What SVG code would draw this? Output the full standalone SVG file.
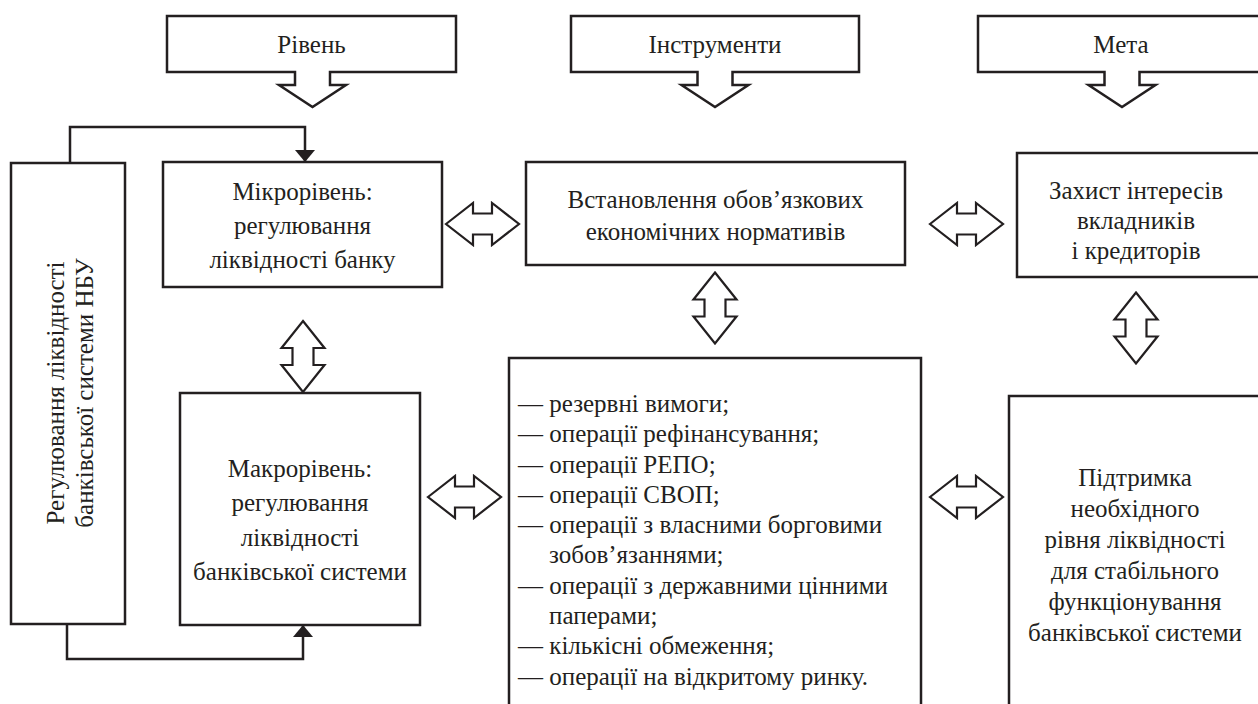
<svg xmlns="http://www.w3.org/2000/svg" width="1258" height="704" viewBox="0 0 1258 704">
<style>
.box{fill:#fff;stroke:#231f20;stroke-width:2.5}
.arr{fill:#fff;stroke:#231f20;stroke-width:2.2;stroke-linejoin:miter}
.t{font-family:"Liberation Serif","Times New Roman",serif;font-size:25px;fill:#231f20}
.c{text-anchor:middle}
.ln{fill:none;stroke:#231f20;stroke-width:2.5}
</style>
<defs>
<marker id="ah" markerUnits="userSpaceOnUse" viewBox="0 0 12 20" refX="12" refY="10" markerWidth="12" markerHeight="20" orient="auto">
<path d="M0,0 L12,10 L0,20 z" fill="#231f20"/>
</marker>
<polygon id="hdbl" class="arr" points="-36.5,0 -9.5,-21 -9.5,-10.5 9.5,-10.5 9.5,-21 36.5,0 9.5,21 9.5,10.5 -9.5,10.5 -9.5,21"/>
<polygon id="vdbl" class="arr" points="0,-35.5 21.5,-8.5 10.5,-8.5 10.5,8.5 21.5,8.5 0,35.5 -21.5,8.5 -10.5,8.5 -10.5,-8.5 -21.5,-8.5"/>
</defs>

<g id="hdr-riven">
<path class="box" d="M167,16 H456 V72 H330 V85 H346 L312.5,107 L279,85 H295 V72 H167 Z"/>
<text class="t c" x="311.5" y="53">Рівень</text>
</g>
<g id="hdr-instr">
<path class="box" d="M571,16 H859 V72 H732.5 V85 H748.5 L715,107 L681.5,85 H697.5 V72 H571 Z"/>
<text class="t c" x="715" y="53">Інструменти</text>
</g>
<g id="hdr-meta">
<path class="box" d="M978,16 H1266 V72 H1139.5 V85 H1155.5 L1122,107 L1088.5,85 H1104.5 V72 H978 Z"/>
<text class="t c" x="1121" y="53">Мета</text>
</g>

<g id="nbu">
<rect class="box" x="11" y="163" width="114" height="461"/>
<g transform="translate(68,393) rotate(-90)">
<text class="t c" x="0" y="-4">Регулювання ліквідності</text>
<text class="t c" x="0" y="25">банківської системи НБУ</text>
</g>
</g>

<g id="mikro">
<rect class="box" x="163" y="162" width="279" height="125"/>
<text class="t c" x="302.5" y="200">Мікрорівень:</text>
<text class="t c" x="302.5" y="234">регулювання</text>
<text class="t c" x="302.5" y="268">ліквідності банку</text>
</g>

<g id="makro">
<rect class="box" x="180" y="393" width="240" height="232"/>
<text class="t c" x="300" y="477">Макрорівень:</text>
<text class="t c" x="300" y="511">регулювання</text>
<text class="t c" x="300" y="546">ліквідності</text>
<text class="t c" x="300" y="580">банківської системи</text>
</g>

<g id="norm">
<rect class="box" x="526" y="162" width="379" height="103"/>
<text class="t c" x="715.5" y="208">Встановлення обов’язкових</text>
<text class="t c" x="715.5" y="240">економічних нормативів</text>
</g>

<g id="zakhyst">
<rect class="box" x="1017" y="153" width="250" height="124"/>
<text class="t c" x="1136" y="199">Захист інтересів</text>
<text class="t c" x="1136" y="229">вкладників</text>
<text class="t c" x="1136" y="259">і кредиторів</text>
</g>

<g id="instr-list">
<rect class="box" x="509" y="358" width="412" height="360"/>
<text class="t" x="518" y="412">— резервні вимоги;</text>
<text class="t" x="518" y="442">— операції рефінансування;</text>
<text class="t" x="518" y="473">— операції РЕПО;</text>
<text class="t" x="518" y="503">— операції СВОП;</text>
<text class="t" x="518" y="533">— операції з власними борговими</text>
<text class="t" x="549" y="563">зобов’язаннями;</text>
<text class="t" x="518" y="594">— операції з державними цінними</text>
<text class="t" x="549" y="624">паперами;</text>
<text class="t" x="518" y="654">— кількісні обмеження;</text>
<text class="t" x="518" y="685">— операції на відкритому ринку.</text>
</g>

<g id="pidtrymka">
<rect class="box" x="1009" y="396" width="260" height="330"/>
<text class="t c" x="1135" y="486">Підтримка</text>
<text class="t c" x="1135" y="517">необхідного</text>
<text class="t c" x="1135" y="548">рівня ліквідності</text>
<text class="t c" x="1135" y="579">для стабільного</text>
<text class="t c" x="1135" y="610">функціонування</text>
<text class="t c" x="1135" y="641">банківської системи</text>
</g>

<g id="connectors">
<path class="ln" d="M70,163 V127 H305 V162" marker-end="url(#ah)"/>
<path class="ln" d="M67,624 V659 H303 V625" marker-end="url(#ah)"/>
<use href="#hdbl" x="482.5" y="224"/>
<use href="#hdbl" x="966.5" y="224"/>
<use href="#hdbl" x="464.5" y="497"/>
<use href="#hdbl" x="966.5" y="497"/>
<use href="#vdbl" x="303" y="356.5"/>
<use href="#vdbl" x="715" y="308"/>
<use href="#vdbl" x="1136" y="328"/>
</g>
</svg>
